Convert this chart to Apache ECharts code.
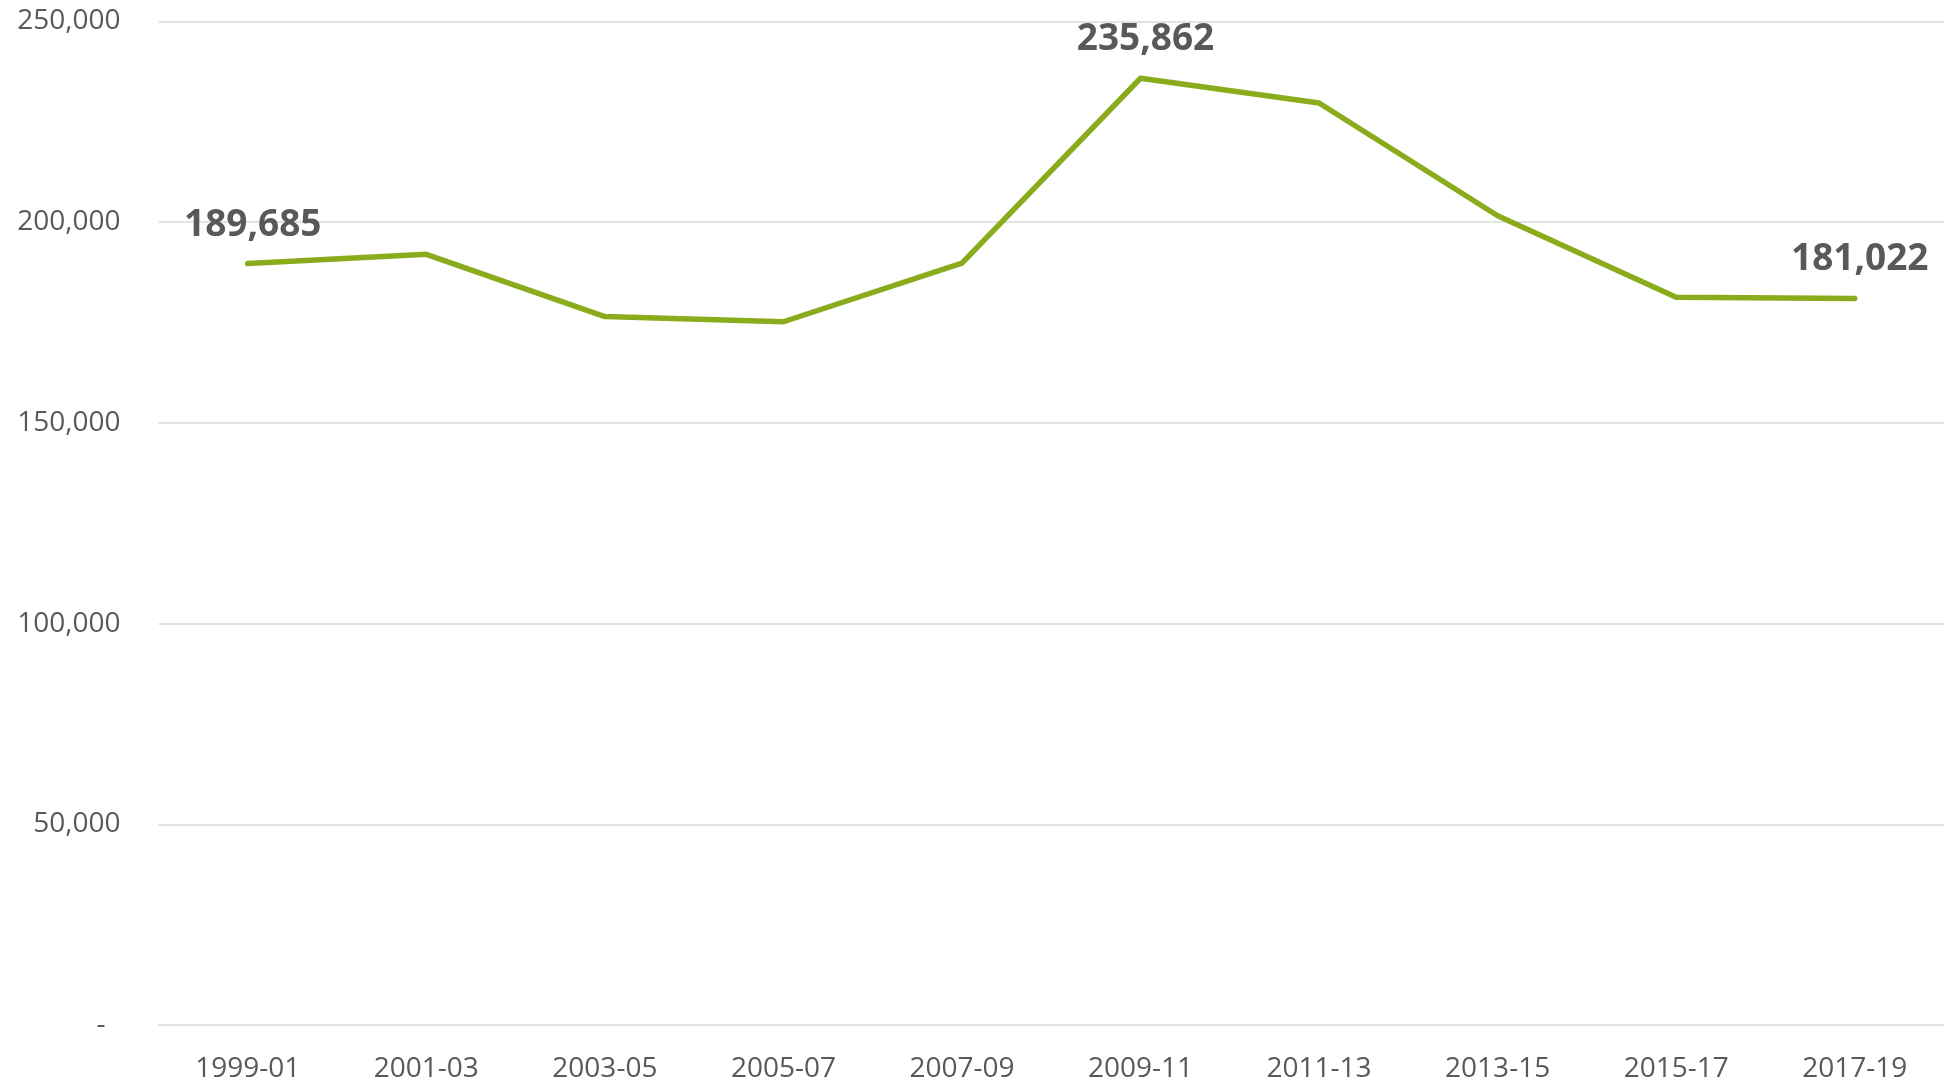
<!DOCTYPE html>
<html>
<head>
<meta charset="utf-8">
<script src="https://cdn.jsdelivr.net/npm/echarts@6/dist/echarts.min.js"></script>
<style>
  html, body { margin: 0; padding: 0; background: #fff; }
  #chart { width: 1944px; height: 1083px; }
</style>
</head>
<body>
<div id="chart"></div>
<script>
// periods (x axis)
const periods = ['1999-01', '2001-03', '2003-05', '2005-07', '2007-09',
  '2009-11', '2011-13', '2013-15', '2015-17', '2017-19']
// values
const values = [189685, 192000, 176500, 175200, 189800,
  235862, 229700, 201600, 181300, 181022]
// only these points get a label
const labelled = [0, 5, 9]

const textColor = '#595959'
const fontFamily = '"Open Sans", "Noto Sans", sans-serif'

const chart = echarts.init(document.getElementById('chart'))

chart.setOption({
  animation: false,
  grid: {
    left: 158.5,
    width: 1791,
    top: 21.5,
    bottom: 56.5
  },
  xAxis: {
    type: 'category',
    data: periods,
    boundaryGap: true,
    axisLine: { show: true, lineStyle: { color: '#e3e3e3', width: 2 } },
    axisTick: { show: false },
    axisLabel: {
      color: textColor,
      fontFamily: fontFamily,
      fontSize: 28,
      margin: 30
    }
  },
  yAxis: {
    type: 'value',
    min: 0,
    max: 250000,
    interval: 50000,
    axisLine: { show: false },
    axisTick: { show: false },
    splitLine: { lineStyle: { color: '#e3e3e3', width: 2 } },
    axisLabel: {
      color: textColor,
      fontFamily: fontFamily,
      fontSize: 28,
      margin: 38,
      formatter: (v) => v === 0 ? '{d|-}' : v.toLocaleString('en-US'),
      rich: {
        d: {
          color: textColor,
          fontFamily: fontFamily,
          fontSize: 28,
          padding: [0, 15, 0, 0]
        }
      }
    }
  },
  series: [
    {
      type: 'line',
      data: values,
      symbol: 'circle',
      symbolSize: 0,
      showSymbol: true,
      itemStyle: { color: '#8AAC1C' },
      lineStyle: { color: '#8AAC1C', width: 5.5, cap: 'round', join: 'round' },
      label: {
        show: true,
        position: 'top',
        distance: 20,
        offset: [5, 0],
        color: textColor,
        fontFamily: fontFamily,
        fontWeight: 'bold',
        fontSize: 37,
        lineHeight: 37,
        formatter: (p) => labelled.includes(p.dataIndex) ? p.value.toLocaleString('en-US') : ''
      }
    }
  ]
})
</script>
</body>
</html>
